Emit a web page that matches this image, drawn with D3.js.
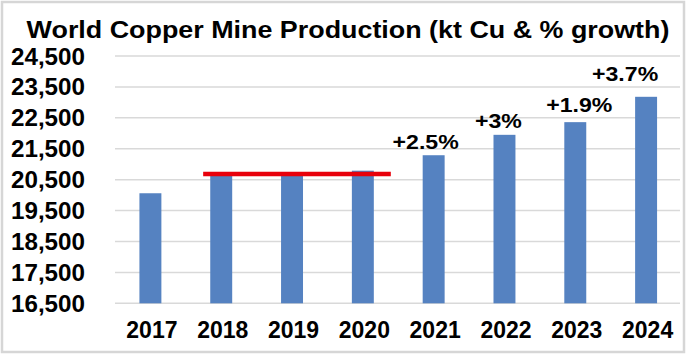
<!DOCTYPE html>
<html><head><meta charset="utf-8">
<script src="https://cdn.jsdelivr.net/npm/d3@7"></script>
<style>html,body{margin:0;padding:0;background:#fff;}svg{display:block;font-family:"Liberation Sans",Arial,sans-serif;}</style>
</head><body>
<svg id="c" width="690" height="355"></svg>
<script>
const years = ["2017","2018","2019","2020","2021","2022","2023","2024"];
const production = [20060, 20650, 20650, 20790, 21290, 21950, 22360, 23180];
const growthLabels = [null, null, null, null, "+2.5%", "+3%", "+1.9%", "+3.7%"];
const yTicks = [16500,17500,18500,19500,20500,21500,22500,23500,24500];
const plateauLevel = 20680;
const plateauFrom = "2018", plateauTo = "2020";
const title = "World Copper Mine Production (kt Cu & % growth)";

// label placement nudges (styling)
const labelDx = [0,0,0,0,-8,-6,4,-21];
const labelGap = [0,0,0,0,6,7,10,16];

const svg = d3.select("#c");
svg.append("rect").attr("x",2).attr("y",2).attr("width",682).attr("height",350)
  .attr("fill","#fff").attr("stroke","#d6d6d6").attr("stroke-width",2.5);

const x = d3.scaleBand().domain(years).range([115, 681.5]).paddingInner(0.69).paddingOuter(0.345);
const y = d3.scaleLinear().domain([16500, 24500]).range([303.3, 56]);

function txt(g, s, px, py, size, anchor, sx){
  return g.append("text").attr("transform",`translate(${px},${py}) scale(${sx},1)`)
    .attr("text-anchor",anchor).attr("font-size",size).attr("font-weight","bold").attr("fill","#000").text(s);
}

// gridlines
svg.append("g").selectAll("line").data(yTicks).join("line")
  .attr("x1",115).attr("x2",680).attr("y1",d=>y(d)).attr("y2",d=>y(d))
  .attr("stroke","#d9d9d9").attr("stroke-width",1.5);

// y labels
const fmt = d3.format(",");
const gy = svg.append("g");
yTicks.forEach(t=>txt(gy, fmt(t), 85, y(t)+8.5, 23.5, "end", 1.03));

// bars
svg.append("g").selectAll("rect").data(years).join("rect")
  .attr("x",d=>x(d)).attr("width",x.bandwidth())
  .attr("y",(d,i)=>y(production[i])).attr("height",(d,i)=>y(16500)-y(production[i]))
  .attr("fill","#5582c1");

// plateau line
const step = x.step();
svg.append("line")
  .attr("x1", x(plateauFrom) - 0.1*step).attr("x2", x(plateauTo) + x.bandwidth() + 0.24*step)
  .attr("y1", y(plateauLevel)).attr("y2", y(plateauLevel))
  .attr("stroke","#e8000b").attr("stroke-width",4.5);

// x labels
const gx = svg.append("g");
years.forEach(d=>txt(gx, d, x(d)+x.bandwidth()/2+1.5, 338, 23, "middle", 1.0));

// growth labels
const gl = svg.append("g");
years.forEach((d,i)=>{
  if(!growthLabels[i]) return;
  txt(gl, growthLabels[i], x(d)+x.bandwidth()/2+labelDx[i], y(production[i])-labelGap[i], 21, "middle", 1.1);
});

// title
txt(svg, title, 348, 38, 24, "middle", 1.12);
</script>
</body></html>
